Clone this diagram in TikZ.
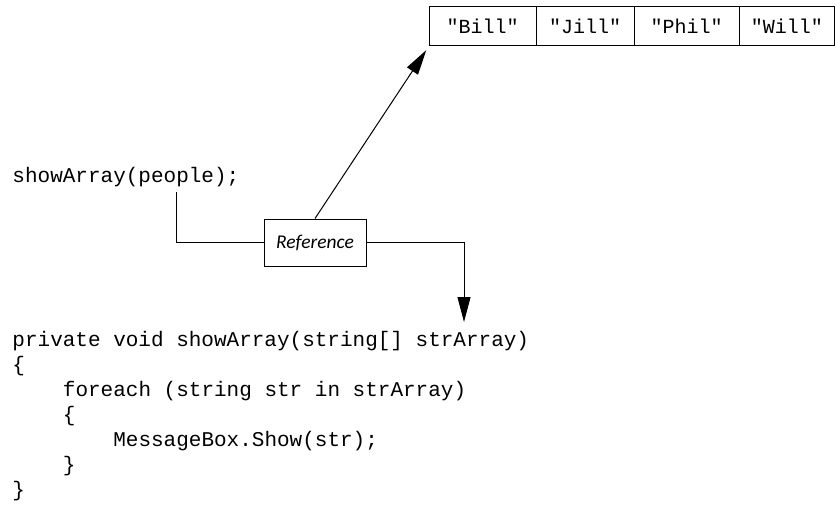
\documentclass[tikz,border=0pt]{standalone}
\usepackage{fontspec}
\setmonofont{Liberation Mono}
\newfontfamily\labelfont{Carlito}
\usetikzlibrary{positioning,arrows.meta}

\begin{document}
\begin{tikzpicture}[
    x=1pt, y=-1pt,
    line width=1pt,
    cell/.style={draw, outer sep=0pt, inner sep=0pt, minimum height=39pt, font=\ttfamily\fontsize{20}{24}\selectfont},
    code/.style={inner sep=0pt, font=\ttfamily\fontsize{21}{24}\selectfont},
    refbox/.style={draw, inner sep=0pt, minimum width=102pt, minimum height=47pt, font=\labelfont\itshape\fontsize{19.5}{22}\selectfont},
    arr/.style={-{Triangle[length=25pt, width=13pt]}}
]
\useasboundingbox (0,0) rectangle (835,508);

% the array of names
\node[cell, minimum width=107pt, anchor=north west] (bill) at (429,7) {"Bill"};
\node[cell, minimum width=98pt, right=0pt of bill] (jill) {"Jill"};
\node[cell, minimum width=105pt, right=0pt of jill] (phil) {"Phil"};
\node[cell, minimum width=95.5pt, right=0pt of phil] (will) {"Will"};

% the call
\node[code, anchor=base west] (call) at (12,182) {showArray(people);};
\coordinate (callpt) at (176,192);

\node[refbox] (ref) at (315,242.5) {Reference};

% the method
\foreach \txt [count=\i] in {%
    {private void showArray(string[] strArray)},
    {\{},
    {\hphantom{0000}foreach (string str in strArray)},
    {\hphantom{0000}\{},
    {\hphantom{00000000}MessageBox.Show(str);},
    {\hphantom{0000}\}},
    {\}}}
  \node[code, anchor=base west] (code\i) at (12,{346+25*(\i-1)}) {\txt};
\coordinate (codept) at (464,322);

\draw (callpt) |- (ref.west);
\draw[arr] (ref.east) -| (codept);
\draw[arr, shorten >=5pt] (ref.north) -- (bill.south west);
\end{tikzpicture}
\end{document}
